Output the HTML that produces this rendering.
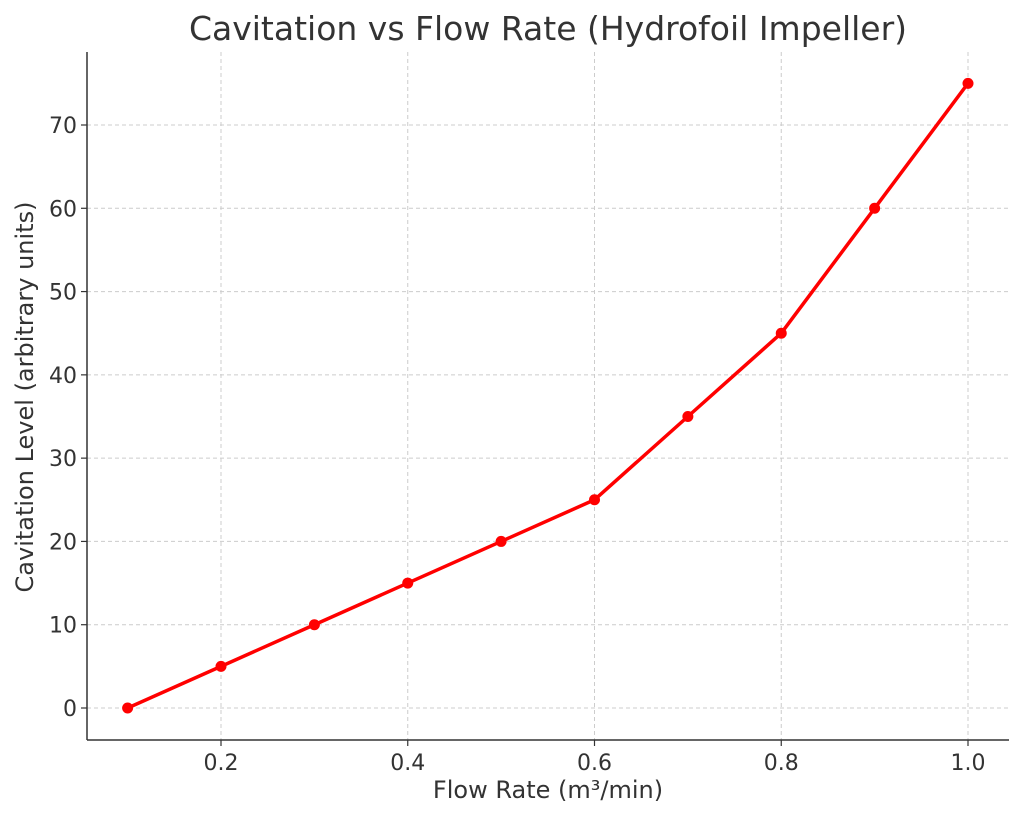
<!DOCTYPE html>
<html><head><meta charset="utf-8"><style>
html,body{margin:0;padding:0;background:#fff;}
svg text{font-family:"DejaVu Sans","Liberation Sans",sans-serif;fill:#333;}
</style></head><body>
<svg id="chart" width="1024" height="819" xmlns="http://www.w3.org/2000/svg">
<text x="548" y="40" font-size="33" text-anchor="middle">Cavitation vs Flow Rate (Hydrofoil Impeller)</text>
<g id="grid"></g>
<g id="ticks"></g>
<line x1="87" y1="52" x2="87" y2="740" stroke="#333" stroke-width="1.5"/>
<line x1="87" y1="740" x2="1009" y2="740" stroke="#333" stroke-width="1.5"/>
<g id="series"></g>
<text x="548" y="798" font-size="24" text-anchor="middle">Flow Rate (m³/min)</text>
<text x="0" y="0" font-size="24" text-anchor="middle" transform="translate(33,397) rotate(-90)">Cavitation Level (arbitrary units)</text>
</svg>
<script>
const flowRates=[0.1,0.2,0.3,0.4,0.5,0.6,0.7,0.8,0.9,1.0];
const cavitation=[0,5,10,15,20,25,35,45,60,75];
const xTicks=[0.2,0.4,0.6,0.8,1.0];
const xTickLabels=["0.2","0.4","0.6","0.8","1.0"];
const yTicks=[0,10,20,30,40,50,60,70];
const ns="http://www.w3.org/2000/svg";
function xs(v){return 221+(v-0.2)*(968-221)/0.8;}
function ys(v){return 708-v*(708-125)/70;}
function mk(tag,attrs,parent){const e=document.createElementNS(ns,tag);for(const k in attrs)e.setAttribute(k,attrs[k]);parent.appendChild(e);return e;}
const grid=document.getElementById('grid'),ticks=document.getElementById('ticks'),series=document.getElementById('series');
xTicks.forEach((t,i)=>{
 const g=mk('line',{x1:xs(t),x2:xs(t),y1:52,y2:740,stroke:'#ccc','stroke-dasharray':'4,3','stroke-width':1},grid);
 
 
 const tk=mk('line',{x1:xs(t),x2:xs(t),y1:740,y2:746,stroke:'#333','stroke-width':1.2},ticks);
 
 
 const tx=mk('text',{x:xs(t),y:770,'font-size':22,'text-anchor':'middle'},ticks);
 tx.textContent=xTickLabels[i];
 
 
});
yTicks.forEach(t=>{
 const g=mk('line',{x1:87,x2:1009,y1:ys(t),y2:ys(t),stroke:'#ccc','stroke-dasharray':'4,3','stroke-width':1},grid);
 
 
 const tk=mk('line',{x1:81,x2:87,y1:ys(t),y2:ys(t),stroke:'#333','stroke-width':1.2},ticks);
 
 
 const tx=mk('text',{x:77,y:ys(t)+8,'font-size':22,'text-anchor':'end'},ticks);
 tx.textContent=String(t);
 
 
});
const pts=flowRates.map((f,i)=>xs(f)+','+ys(cavitation[i])).join(' ');
const line=mk('polyline',{points:pts,fill:'none',stroke:'#ff0000','stroke-width':3.5,'stroke-linejoin':'round'},series);


flowRates.forEach((f,i)=>{
 const c=mk('circle',{cx:xs(f),cy:ys(cavitation[i]),r:5.5,fill:'#ff0000'},series);
 
 
});
</script>
</body></html>
